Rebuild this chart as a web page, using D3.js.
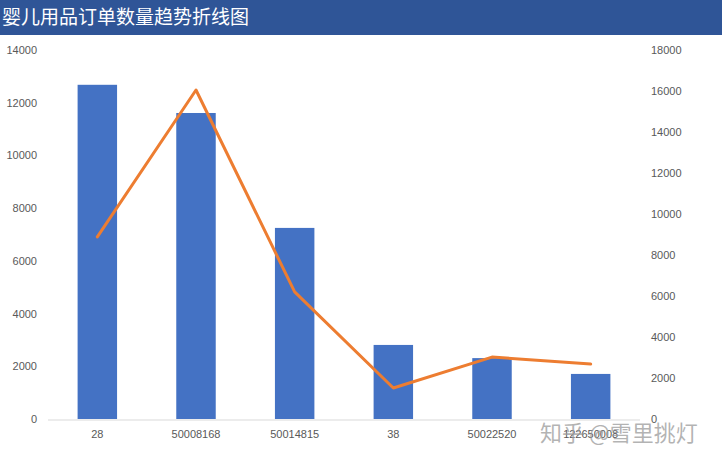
<!DOCTYPE html>
<html><head><meta charset="utf-8">
<script src="https://cdn.jsdelivr.net/npm/d3@7/dist/d3.min.js"></script>
<style>body{margin:0;background:#fff;}svg{display:block;}</style>
</head><body>
<svg id="c" width="722" height="461"></svg>
<script>
const title = "婴儿用品订单数量趋势折线图";
const categories = ["28","50008168","50014815","38","50022520","122650008"];
const barValues = [12680, 11610, 7250, 2810, 2310, 1710];
const lineValues = [8880, 16050, 6200, 1510, 3020, 2680];
const leftTicks = [0,2000,4000,6000,8000,10000,12000,14000];
const rightTicks = [0,2000,4000,6000,8000,10000,12000,14000,16000,18000];

const svg = d3.select("#c");
const font = "'Noto Sans CJK SC','Microsoft YaHei',sans-serif";
svg.append("rect").attr("x",0).attr("y",0).attr("width",722).attr("height",35).attr("fill","#2F5597");
svg.append("text").attr("x",2).attr("y",24).attr("fill","#fff").attr("font-size",19).attr("font-family",font).text(title);

const x = d3.scaleBand().domain(categories).range([48,640]).paddingInner(0.6).paddingOuter(0.3);
const yL = d3.scaleLinear().domain([0,14000]).range([419,50]);
const yR = d3.scaleLinear().domain([0,18000]).range([419,50]);

const tickFont = "'Liberation Sans','DejaVu Sans',sans-serif";
const gL = svg.append("g").attr("transform","translate(37,0)")
  .call(d3.axisLeft(yL).tickValues(leftTicks).tickSize(0).tickPadding(0).tickFormat(d3.format("d")));
gL.select(".domain").remove();
gL.selectAll("text").attr("fill","#595959").attr("font-size",11).attr("font-family",tickFont);

const gR = svg.append("g").attr("transform","translate(651,0)")
  .call(d3.axisRight(yR).tickValues(rightTicks).tickSize(0).tickPadding(0).tickFormat(d3.format("d")));
gR.select(".domain").remove();
gR.selectAll("text").attr("fill","#595959").attr("font-size",11).attr("font-family",tickFont);

svg.append("g").selectAll("rect").data(categories).join("rect")
  .attr("x",d=>x(d)).attr("width",x.bandwidth())
  .attr("y",(d,i)=>yL(barValues[i])).attr("height",(d,i)=>yL(0)-yL(barValues[i]))
  .attr("fill","#4472C4");

const gX = svg.append("g").attr("transform","translate(0,420)")
  .call(d3.axisBottom(x).tickSize(0).tickPadding(10));
gX.select(".domain").attr("stroke","#D9D9D9").attr("d","M48,0H640");
gX.selectAll("text").attr("fill","#595959").attr("font-size",11).attr("font-family",tickFont);

const line = d3.line().x((d,i)=>x(categories[i])+x.bandwidth()/2).y(d=>yR(d));
svg.append("path").datum(lineValues).attr("d",line).attr("fill","none")
  .attr("stroke","#ED7D31").attr("stroke-width",3).attr("stroke-linejoin","round").attr("stroke-linecap","round");

svg.append("text").attr("x",540).attr("y",441).attr("fill","#9a9a9a").attr("fill-opacity",0.75)
  .attr("font-size",22).attr("font-family",font).text("知乎 @雪里挑灯");
</script>
</body></html>
